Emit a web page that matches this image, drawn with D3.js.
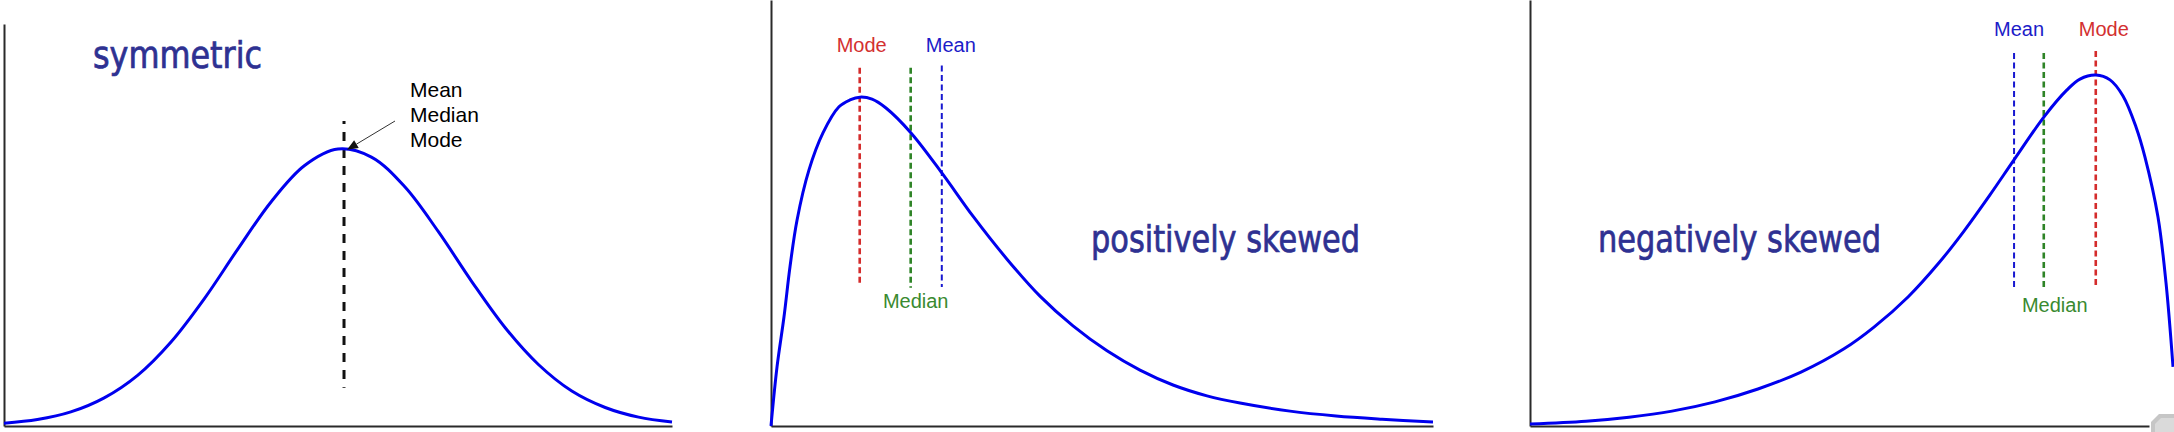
<!DOCTYPE html>
<html>
<head>
<meta charset="utf-8">
<script src="https://cdn.jsdelivr.net/npm/d3@7"></script>
<style>
  html, body { margin: 0; padding: 0; background: #fff; }
  svg { display: block; }
</style>
</head>
<body>
<svg id="chart" width="2174" height="432"></svg>
<script>
// ---------- DATA ----------
const panelTitles = ["symmetric", "positively skewed", "negatively skewed"];
const statNames = ["Mean", "Median", "Mode"];

// symmetric curve (x in 0..10 units, y relative density)
const symX = [0, 0.5, 1, 1.5, 2, 2.5, 3, 3.5, 4, 4.5, 5, 5.5, 6, 6.5, 7, 7.5, 8, 8.5, 9, 9.5, 10];
const symY = [0.007, 0.016, 0.035, 0.070, 0.126, 0.209, 0.317, 0.440, 0.558, 0.648, 0.689, 0.669, 0.595, 0.484, 0.360, 0.245, 0.153, 0.087, 0.046, 0.022, 0.010];
const symStats = [5.09, 5.09, 5.09]; // mean, median, mode

// positively skewed curve
const posX = [0, 0.091, 0.196, 0.287, 0.393, 0.574, 0.785, 1.027, 1.193, 1.344, 1.526, 1.737, 2.115, 2.583, 3.051, 3.565, 4.063, 4.562, 5.076, 5.574, 6.073, 6.586, 7.085, 7.840, 8.535, 9.230, 10];
const posY = [0, 0.147, 0.271, 0.396, 0.512, 0.637, 0.729, 0.794, 0.811, 0.818, 0.813, 0.791, 0.729, 0.629, 0.522, 0.415, 0.323, 0.249, 0.187, 0.139, 0.102, 0.075, 0.057, 0.037, 0.025, 0.017, 0.010];
const posStats = [2.58, 2.11, 1.34];

// negatively skewed curve
const negX = [0, 0.905, 1.599, 2.294, 2.989, 3.683, 4.378, 5.073, 5.557, 6.107, 6.607, 7.011, 7.431, 7.819, 8.304, 8.675, 8.885, 9.144, 9.370, 9.580, 9.790, 9.935, 10.145, 10.275, 10.388];
const negY = [0.005, 0.012, 0.022, 0.037, 0.060, 0.092, 0.134, 0.192, 0.246, 0.321, 0.406, 0.485, 0.575, 0.662, 0.769, 0.836, 0.863, 0.873, 0.861, 0.821, 0.744, 0.669, 0.520, 0.356, 0.147];
const negStats = [7.82, 8.30, 9.14];

// ---------- LAYOUT / STYLE ----------
const svg = d3.select("#chart");
const baseY = 426;
const y = d3.scaleLinear().domain([0, 1]).range([baseY, 24]);

const curveColor = "#0000ee";
const titleColor = "#2e3192";
const statColor = { Mean: "#1818d0", Median: "#2e8427", Mode: "#d42c2c" };
const statText = { Mean: "#1c1cc8", Median: "#3a8a30", Mode: "#d33030" };

const panels = [
  { xs: symX, ys: symY, stats: symStats, range: [4, 672], axisTop: 24,
    title: { x: 93, y: 68, len: 169 } },
  { xs: posX, ys: posY, stats: posStats, range: [771, 1433], axisTop: 0,
    title: { x: 1091, y: 252, len: 269 } },
  { xs: negX, ys: negY, stats: negStats, range: [1530, 2149], axisTop: 0,
    title: { x: 1598, y: 252, len: 283 } }
];

const line = d3.line().curve(d3.curveCatmullRom.alpha(0.5));

panels.forEach((p, i) => {
  const x = d3.scaleLinear().domain([0, 10]).range(p.range);
  const g = svg.append("g");

  // axes (no ticks)
  const yAxisScale = y.copy().domain([0, y.invert(p.axisTop)]).range([baseY, p.axisTop]);
  g.append("g").attr("transform", `translate(${p.range[0]},0)`)
    .call(d3.axisLeft(yAxisScale).tickValues([]).tickSizeOuter(0))
    .call(s => s.select(".domain").attr("stroke", "#2a2a2a").attr("stroke-width", 2));
  g.append("g").attr("transform", `translate(0,${baseY})`)
    .call(d3.axisBottom(x).tickValues([]).tickSizeOuter(0))
    .call(s => s.select(".domain").attr("stroke", "#2a2a2a").attr("stroke-width", 2));

  // title
  g.append("text")
    .attr("x", p.title.x).attr("y", p.title.y)
    .attr("textLength", p.title.len).attr("lengthAdjust", "spacingAndGlyphs")
    .style("font-family", "'DejaVu Sans Condensed', 'DejaVu Sans', sans-serif")
    .style("font-stretch", "condensed")
    .style("font-size", "38px")
    .attr("fill", titleColor)
    .attr("stroke", titleColor)
    .attr("stroke-width", 0.7)
    .text(panelTitles[i]);

  // stat lines
  if (i === 0) {
    const sx = x(p.stats[0]);
    g.append("line")
      .attr("x1", sx).attr("x2", sx)
      .attr("y1", y(0.759)).attr("y2", y(0.095))
      .attr("stroke", "#111").attr("stroke-width", 3)
      .attr("stroke-dasharray", "9,8")
      .attr("stroke-dashoffset", 6);
  } else {
    const spec = i === 1
      ? { top: { Mean: 0.897, Median: 0.891, Mode: 0.891 },
          bot: { Mean: 0.346, Median: 0.344, Mode: 0.351 },
          dx:  { Mean: 9, Median: 5, Mode: 2 },
          ly:  { Mean: 52, Median: 308, Mode: 52 } }
      : { top: { Mean: 0.928, Median: 0.928, Mode: 0.933 },
          bot: { Mean: 0.343, Median: 0.343, Mode: 0.348 },
          dx:  { Mean: 5, Median: 11, Mode: 8 },
          ly:  { Mean: 36, Median: 312, Mode: 36 } };
    statNames.forEach((name, k) => {
      const sx = x(p.stats[k]);
      g.append("line")
        .attr("x1", sx).attr("x2", sx)
        .attr("y1", y(spec.top[name])).attr("y2", y(spec.bot[name]))
        .attr("stroke", statColor[name])
        .attr("stroke-width", name === "Mean" ? 2 : 2.6)
        .attr("stroke-dasharray", "6,3.5");
      g.append("text")
        .attr("x", sx + spec.dx[name]).attr("y", spec.ly[name])
        .attr("text-anchor", "middle")
        .style("font-family", "'Liberation Sans', Arial, sans-serif")
        .style("font-size", "20px")
        .attr("fill", statText[name])
        .text(name);
    });
  }

  // curve
  g.append("path")
    .datum(p.xs.map((d, j) => [x(d), y(p.ys[j])]))
    .attr("d", line)
    .attr("fill", "none")
    .attr("stroke", curveColor)
    .attr("stroke-width", 3)
    .attr("stroke-linejoin", "round");

  // annotation for symmetric panel
  if (i === 0) {
    const tipX = x(p.stats[0]) + 3, tipY = y(0.687);
    const fromX = 395, fromY = 121;
    const ang = Math.atan2(tipY - fromY, tipX - fromX);
    const L = 11, W = 4.5;
    const bx = tipX - L * Math.cos(ang), by = tipY - L * Math.sin(ang);
    g.append("line")
      .attr("x1", fromX).attr("y1", fromY).attr("x2", bx).attr("y2", by)
      .attr("stroke", "#333").attr("stroke-width", 1);
    g.append("path")
      .attr("d", `M${tipX},${tipY}L${bx + W * Math.sin(ang)},${by - W * Math.cos(ang)}L${bx - W * Math.sin(ang)},${by + W * Math.cos(ang)}Z`)
      .attr("fill", "#111");
    const t = g.append("text")
      .style("font-family", "'Liberation Sans', Arial, sans-serif")
      .style("font-size", "21px")
      .attr("fill", "#000");
    statNames.forEach((name, k) => {
      t.append("tspan").attr("x", 410).attr("y", 97 + k * 25).text(name);
    });
  }
});

// resize grip in the bottom-right corner
svg.append("path")
  .attr("d", "M2151,432V422L2159,414H2174V432Z")
  .attr("fill", "#c6c6c6");
svg.append("path")
  .attr("d", "M2155,432V424L2161,418H2174V432Z")
  .attr("fill", "#dadada");
</script>
</body>
</html>
